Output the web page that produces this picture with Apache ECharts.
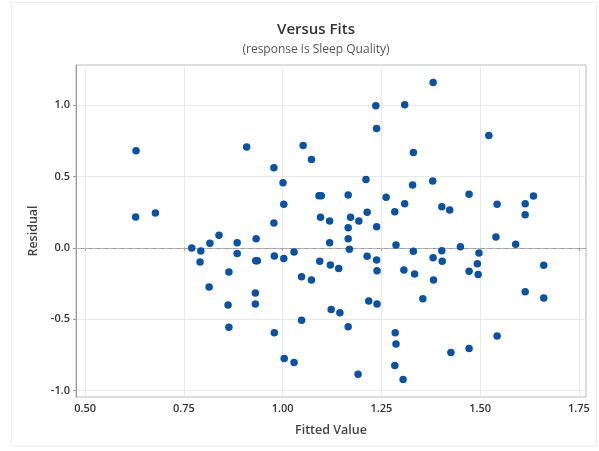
<!DOCTYPE html>
<html>
<head>
<meta charset="utf-8">
<script src="https://cdn.jsdelivr.net/npm/echarts@6/dist/echarts.min.js"></script>
<style>html,body{margin:0;padding:0;background:#fff;}#c{width:599px;height:451px;}</style>
</head>
<body>
<div id="c"></div>
<script>
const fitted = [0.629,0.628,0.678,0.909,0.770,0.793,0.816,0.839,0.885,0.885,0.933,0.791,0.864,0.814,0.862,0.864,0.932,0.936,0.931,0.931,
0.978,1.001,1.003,0.978,0.979,1.003,1.029,1.052,1.073,1.092,1.098,1.096,1.119,1.119,1.094,1.166,1.172,1.193,1.166,1.166,
1.169,1.211,1.214,1.214,1.236,1.238,1.238,1.238,1.262,1.284,1.309,1.309,1.287,1.331,1.329,1.331,1.381,1.380,1.403,1.423,
1.381,1.403,1.522,1.472,1.543,1.614,1.635,1.614,1.540,1.590,1.450,1.497,1.404,1.493,1.472,1.495,1.382,1.661,1.614,1.661,
1.543,1.472,1.426,1.121,1.142,1.048,1.073,1.048,0.979,1.004,1.029,1.123,1.145,1.166,1.191,1.239,1.218,1.239,1.307,1.334,
1.355,1.285,1.287,1.284,1.305];
const residual = [0.679,0.215,0.243,0.705,-0.002,-0.023,0.031,0.087,0.035,-0.040,0.063,-0.100,-0.170,-0.275,-0.401,-0.557,-0.091,-0.091,-0.317,-0.394,
0.560,0.455,0.304,0.173,-0.058,-0.075,-0.030,0.717,0.619,0.364,0.364,0.213,0.187,0.035,-0.095,0.369,0.213,0.187,0.140,0.063,
-0.011,0.479,0.248,-0.060,0.994,0.836,0.147,-0.086,0.353,0.252,1.001,0.308,0.020,0.668,0.439,-0.024,1.158,0.467,0.287,0.264,
-0.070,-0.020,0.787,0.374,0.304,0.308,0.362,0.231,0.075,0.025,0.008,-0.036,-0.095,-0.112,-0.165,-0.187,-0.226,-0.123,-0.308,-0.352,
-0.618,-0.705,-0.733,-0.121,-0.145,-0.203,-0.226,-0.508,-0.595,-0.775,-0.803,-0.432,-0.455,-0.553,-0.885,-0.161,-0.373,-0.394,-0.156,-0.184,
-0.357,-0.595,-0.674,-0.824,-0.922];
const xTicks = [0.5, 0.75, 1.0, 1.25, 1.5, 1.75];
const yTicks = [-1.0, -0.5, 0.0, 0.5, 1.0];
const titleText = 'Versus Fits';
const subtitleText = '(response is Sleep Quality)';

const points = fitted.map((x, i) => [x, residual[i]]);
const font = '"Open Sans", "Noto Sans", sans-serif';
const chart = echarts.init(document.getElementById('c'), null, {renderer: 'canvas'});
chart.setOption({
  animation: false,
  backgroundColor: '#fff',
  title: [
    {text: titleText, left: 311, top: 17, textAlign: 'center',
     textStyle: {fontFamily: font, fontSize: 15, fontWeight: 600, color: '#333'}},
    {text: subtitleText, left: 311, top: 39, textAlign: 'center',
     textStyle: {fontFamily: font, fontSize: 12, fontWeight: 'normal', color: '#555'}}
  ],
  graphic: [{type: 'rect', shape: {x: 11.5, y: 2.5, width: 585, height: 443.5},
    style: {fill: 'none', stroke: '#ececec', lineWidth: 1}, silent: true, z: -1}],
  grid: {left: 76, right: 13, top: 65, bottom: 54, show: true, borderColor: '#b8b8b8', borderWidth: 1, backgroundColor: '#fff'},
  xAxis: {
    type: 'value', min: 0.477, max: 1.768,
    name: 'Fitted Value', nameLocation: 'middle', nameGap: 27,
    nameTextStyle: {fontFamily: font, fontSize: 12.5, fontWeight: 600, color: '#444'},
    axisLine: {show: true, lineStyle: {color: '#9a9a9a'}},
    axisTick: {show: true, length: 3, inside: false, customValues: xTicks, lineStyle: {color: '#9a9a9a'}},
    axisLabel: {customValues: xTicks, margin: 6, fontFamily: font, fontSize: 11, fontWeight: 600, color: '#333',
      formatter: v => v.toFixed(2)},
    splitLine: {show: true, lineStyle: {color: '#e8e8e8'}}
  },
  yAxis: {
    type: 'value', min: -1.045, max: 1.28,
    name: 'Residual', nameLocation: 'middle', nameGap: 30, nameRotate: 90,
    nameTextStyle: {fontFamily: font, fontSize: 12.5, fontWeight: 600, color: '#444'},
    axisLine: {show: true, lineStyle: {color: '#9a9a9a'}},
    axisTick: {show: true, length: 3, inside: false, customValues: yTicks, lineStyle: {color: '#9a9a9a'}},
    axisLabel: {customValues: yTicks, margin: 6, fontFamily: font, fontSize: 11, fontWeight: 600, color: '#333',
      formatter: v => v.toFixed(1)},
    splitLine: {show: true, lineStyle: {color: '#e8e8e8'}}
  },
  series: [{
    type: 'scatter', data: points, symbol: 'circle', symbolSize: 7.5,
    itemStyle: {color: '#0b52a0', opacity: 1},
    markLine: {silent: true, symbol: 'none', label: {show: false},
      lineStyle: {type: [5, 3], color: '#b4b4b4', width: 1},
      data: [{yAxis: 0}], z: 1}
  }]
});
</script>
</body>
</html>
